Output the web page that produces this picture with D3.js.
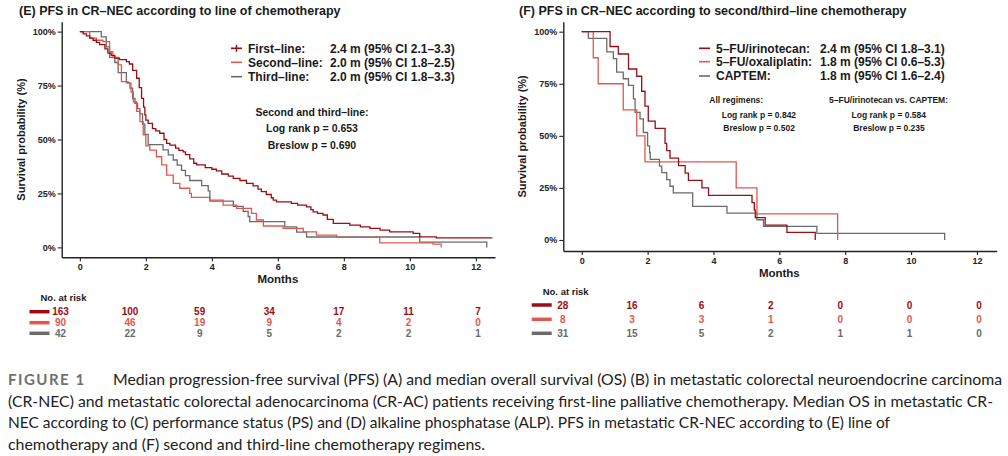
<!DOCTYPE html>
<meta charset="utf-8">
<style>
body { margin: 0; background: #fff; }
text { font-family: "Liberation Sans", Arial, sans-serif; fill: #1a1a1a; }
.tick text { font-weight: bold; font-size: 9px; fill: #222; }
.caption { font-family: Lato, "Open Sans", sans-serif; font-size: 15px; fill: #222; }
</style>
<body>
<script src="https://d3js.org/d3.v7.min.js"></script>
<script>

var width = 1008, height = 456;
var colors = ["#9b0d14", "#e0584d", "#6b6b6b"];

// (E) line of chemotherapy: step times (months) and survival
var firstT = [0, 0.1, 0.2, 0.3, 0.4, 0.5, 0.6, 0.76, 0.85, 0.95, 1.06, 1.2, 1.41, 1.5, 1.6, 1.72, 1.8, 1.87, 1.93, 1.97, 2.0, 2.07, 2.2, 2.3, 2.42, 2.55, 2.63, 2.73, 2.9, 3.0, 3.13, 3.2, 3.33, 3.45, 3.54, 3.8, 4.0, 4.14, 4.3, 4.5, 4.65, 4.85, 5.05, 5.25, 5.4, 5.5, 5.65, 5.8, 5.86, 5.96, 6.41, 6.6, 6.87, 7.0, 7.07, 7.2, 7.37, 7.5, 7.68, 8.18, 8.5, 8.79, 9.1, 9.39, 10.1, 10.3, 10.8, 12.5];
var firstS = [1, 0.99, 0.98, 0.97, 0.96, 0.95, 0.94, 0.92, 0.9, 0.89, 0.877, 0.87, 0.861, 0.85, 0.82, 0.784, 0.74, 0.691, 0.65, 0.614, 0.59, 0.575, 0.55, 0.54, 0.529, 0.5, 0.482, 0.474, 0.46, 0.45, 0.443, 0.43, 0.41, 0.39, 0.382, 0.37, 0.362, 0.355, 0.34, 0.33, 0.32, 0.31, 0.297, 0.285, 0.27, 0.258, 0.245, 0.23, 0.219, 0.211, 0.204, 0.196, 0.188, 0.175, 0.165, 0.158, 0.15, 0.13, 0.111, 0.103, 0.095, 0.088, 0.08, 0.072, 0.065, 0.049, 0.044, 0.044];
var secondT = [0, 0.3, 0.5, 0.7, 0.9, 1.0, 1.16, 1.26, 1.46, 1.55, 1.62, 1.72, 1.82, 1.92, 2.0, 2.12, 2.32, 2.48, 2.63, 2.83, 3.03, 3.33, 3.38, 3.94, 4.34, 4.75, 5.2, 5.35, 5.56, 6.16, 6.77, 7.17, 7.78, 9.09, 10.7, 10.95];
var secondS = [1, 0.97, 0.96, 0.954, 0.907, 0.88, 0.846, 0.768, 0.761, 0.72, 0.675, 0.63, 0.583, 0.521, 0.47, 0.451, 0.42, 0.382, 0.335, 0.297, 0.274, 0.25, 0.232, 0.219, 0.196, 0.181, 0.158, 0.127, 0.099, 0.088, 0.072, 0.057, 0.046, 0.021, 0.015, 0];
var thirdT = [0, 0.65, 0.8, 0.9, 1.06, 1.16, 1.41, 1.52, 1.6, 1.67, 1.75, 1.82, 1.9, 1.97, 2.07, 2.52, 2.68, 2.83, 2.95, 3.08, 3.2, 3.33, 3.69, 3.89, 3.94, 4.65, 4.95, 5.1, 5.15, 6.21, 6.57, 6.87, 10.3, 12.33];
var thirdS = [1, 0.976, 0.929, 0.881, 0.857, 0.81, 0.762, 0.738, 0.69, 0.667, 0.643, 0.619, 0.571, 0.524, 0.476, 0.452, 0.429, 0.405, 0.381, 0.357, 0.333, 0.31, 0.286, 0.262, 0.214, 0.19, 0.167, 0.143, 0.119, 0.095, 0.071, 0.048, 0.024, 0];

// (F) second/third-line regimens
var irinoT = [0, 0.86, 1.11, 1.42, 1.67, 1.82, 1.92, 2.02, 2.23, 2.53, 2.58, 2.68, 2.94, 3.14, 3.24, 3.65, 3.85, 5.17, 5.24, 5.27, 5.57, 6.23, 7.09];
var irinoS = [1, 0.929, 0.893, 0.821, 0.786, 0.714, 0.643, 0.571, 0.536, 0.464, 0.429, 0.393, 0.357, 0.321, 0.286, 0.25, 0.214, 0.179, 0.143, 0.107, 0.071, 0.036, 0];
var oxaliT = [0, 0.35, 0.5, 1.26, 1.67, 1.92, 4.69, 5.32, 7.77];
var oxaliS = [1, 0.875, 0.75, 0.625, 0.5, 0.375, 0.25, 0.125, 0];
var captemT = [0, 0.2, 0.76, 0.96, 1.06, 1.26, 1.42, 1.57, 1.62, 1.77, 1.87, 2.0, 2.06, 2.08, 2.36, 2.43, 2.58, 2.68, 2.78, 3.37, 4.41, 5.32, 5.52, 7.14, 11.02];
var captemS = [1, 0.968, 0.903, 0.871, 0.806, 0.774, 0.742, 0.677, 0.613, 0.581, 0.516, 0.452, 0.419, 0.387, 0.355, 0.323, 0.29, 0.258, 0.226, 0.161, 0.129, 0.097, 0.065, 0.032, 0];

var xTicks = [0, 2, 4, 6, 8, 10, 12];
var yTicks = [0, 0.25, 0.5, 0.75, 1];
var riskE = [[163, 100, 59, 34, 17, 11, 7], [90, 46, 19, 9, 4, 2, 0], [42, 22, 9, 5, 2, 2, 1]];
var riskF = [[28, 16, 6, 2, 0, 0, 0], [8, 3, 3, 1, 0, 0, 0], [31, 15, 5, 2, 1, 1, 0]];

var legendE = ["First–line:", "Second–line:", "Third–line:"];
var medianE = ["2.4 m (95% CI 2.1–3.3)", "2.0 m (95% CI 1.8–2.5)", "2.0 m (95% CI 1.8–3.3)"];
var legendF = ["5–FU/irinotecan:", "5–FU/oxaliplatin:", "CAPTEM:"];
var medianF = ["2.4 m (95% CI 1.8–3.1)", "1.8 m (95% CI 0.6–5.3)", "1.8 m (95% CI 1.6–2.4)"];

var svg = d3.select("body").append("svg")
    .attr("width", width)
    .attr("height", height);

function panel(p) {
  var g = svg.append("g");
  var x = d3.scaleLinear().domain(p.xDom).range(p.xRange);
  var y = d3.scaleLinear().domain(p.yDom).range(p.yRange);

  g.append("text").attr("x", p.titleX).attr("y", 15)
      .style("font-weight", "bold").style("font-size", "12.5px")
      .text(p.title);

  var ya = g.append("g").attr("transform", "translate(" + p.xRange[0] + ",0)")
      .call(d3.axisLeft(y).tickValues(yTicks).tickFormat(d3.format(".0%")).tickSize(4).tickSizeOuter(0).tickPadding(2));
  var xa = g.append("g").attr("transform", "translate(0," + p.yRange[0] + ")")
      .call(d3.axisBottom(x).tickValues(xTicks).tickSize(4).tickSizeOuter(0).tickPadding(2.5));
  [ya, xa].forEach(function(a) {
    a.select(".domain").attr("stroke", "#222").attr("stroke-width", 1.4);
    a.selectAll(".tick line").attr("stroke", "#222").attr("stroke-width", 1.1);
  });

  var cy = (p.yRange[0] + p.yRange[1]) / 2;
  g.append("text")
      .attr("transform", "translate(" + (p.xRange[0] - 37) + "," + cy + ") rotate(-90)")
      .attr("text-anchor", "middle")
      .style("font-weight", "bold").style("font-size", "11px")
      .text("Survival probability (%)");
  g.append("text").attr("x", x(6)).attr("y", p.yRange[0] + 25.5)
      .attr("text-anchor", "middle")
      .style("font-weight", "bold").style("font-size", "11.5px")
      .text("Months");

  var line = d3.line()
      .x(function(d) { return x(d[0]); })
      .y(function(d) { return y(d[1]); })
      .curve(d3.curveStepAfter);

  for (var i = p.curves.length - 1; i >= 0; i--) {
    g.append("path")
        .datum(d3.zip(p.curves[i][0], p.curves[i][1]))
        .attr("fill", "none")
        .attr("stroke", colors[i])
        .attr("stroke-width", 1.3)
        .attr("d", line);
  }

  // legend
  p.labels.forEach(function(lab, i) {
    var ly = p.legY[i];
    g.append("line").attr("x1", p.legX).attr("x2", p.legX + 11)
        .attr("y1", ly).attr("y2", ly)
        .attr("stroke", colors[i]).attr("stroke-width", 1.6);
    if (i === 0 && p.cross) {
      g.append("line").attr("x1", p.legX + 5.5).attr("x2", p.legX + 5.5)
          .attr("y1", ly - 3.5).attr("y2", ly + 3.5)
          .attr("stroke", colors[i]).attr("stroke-width", 1.4);
    }
    g.append("text").attr("x", p.legX + 17).attr("y", ly + 4.3)
        .style("font-weight", "bold").style("font-size", "12px")
        .text(lab);
    g.append("text").attr("x", p.valX).attr("y", ly + 4.3)
        .style("font-weight", "bold").style("font-size", "12px")
        .text(p.medians[i]);
  });

  p.notes.forEach(function(n) {
    g.append("text").attr("x", n.x).attr("y", n.y)
        .attr("text-anchor", n.anchor || "start")
        .style("font-weight", "bold").style("font-size", n.size)
        .text(n.t);
  });

  // risk table
  var tx = d3.scaleLinear().domain([0, 12]).range(p.tabRange);
  g.append("text").attr("x", p.tabRange[0] - 20).attr("y", p.riskY[0] - 10.5)
      .style("font-weight", "bold").style("font-size", "9.5px")
      .text("No. at risk");
  p.risk.forEach(function(row, i) {
    g.append("line").attr("x1", p.tabRange[0] - 31).attr("x2", p.tabRange[0] - 11)
        .attr("y1", p.riskY[i]).attr("y2", p.riskY[i])
        .attr("stroke", colors[i]).attr("stroke-width", 3.5);
    g.selectAll(null).data(row).enter().append("text")
        .attr("x", function(d, j) { return tx(xTicks[j]); })
        .attr("y", p.riskY[i] + 3.6)
        .attr("text-anchor", "middle")
        .style("font-weight", "bold").style("font-size", "10px")
        .style("fill", colors[i])
        .text(function(d) { return d; });
  });
}

panel({
  title: "(E) PFS in CR–NEC according to line of chemotherapy", titleX: 19,
  xDom: [-0.55, 12.58], xRange: [61.7, 495],
  yDom: [-0.046, 1.046], yRange: [257.3, 21.7],
  curves: [[firstT, firstS], [secondT, secondS], [thirdT, thirdS]],
  labels: legendE, medians: medianE, cross: true,
  legX: 231, legY: [48.3, 62.3, 76.7], valX: 330,
  notes: [
    { t: "Second and third–line:", x: 312, y: 115.5, anchor: "middle", size: "10.5px" },
    { t: "Log rank p = 0.653", x: 312, y: 132, anchor: "middle", size: "10.5px" },
    { t: "Breslow p = 0.690", x: 312, y: 148.5, anchor: "middle", size: "10.5px" }
  ],
  risk: riskE, tabRange: [60.5, 478], riskY: [311.7, 322.7, 333.3]
});

panel({
  title: "(F) PFS in CR–NEC according to second/third–line chemotherapy", titleX: 519,
  xDom: [-0.56, 12.6], xRange: [563.3, 996.7],
  yDom: [-0.053, 1.048], yRange: [251, 21.7],
  curves: [[irinoT, irinoS], [oxaliT, oxaliS], [captemT, captemS]],
  labels: legendF, medians: medianF, cross: false,
  legX: 699, legY: [48.3, 61.7, 76], valX: 820,
  notes: [
    { t: "All regimens:", x: 709.3, y: 103, size: "8.5px" },
    { t: "Log rank p = 0.842", x: 721.7, y: 118, size: "8.5px" },
    { t: "Breslow p = 0.502", x: 723.3, y: 131.3, size: "8.5px" },
    { t: "5–FU/irinotecan vs. CAPTEM:", x: 888.5, y: 103, anchor: "middle", size: "8.5px" },
    { t: "Log rank p = 0.584", x: 888.8, y: 118, anchor: "middle", size: "8.5px" },
    { t: "Breslow p = 0.235", x: 889, y: 131.3, anchor: "middle", size: "8.5px" }
  ],
  risk: riskF, tabRange: [562.7, 979], riskY: [305, 319.3, 333.3]
});

// caption
var cap = svg.append("g");
cap.append("text").attr("x", 8).attr("y", 385)
    .attr("class", "caption")
    .style("font-weight", "bold").style("fill", "#707070").style("letter-spacing", "1.5px")
    .text("FIGURE 1");
var capLines = [
  { t: "Median progression-free survival (PFS) (A) and median overall survival (OS) (B) in metastatic colorectal neuroendocrine carcinoma", x: 113, w: 889 },
  { t: "(CR-NEC) and metastatic colorectal adenocarcinoma (CR-AC) patients receiving first-line palliative chemotherapy. Median OS in metastatic CR-", x: 8, w: 985 },
  { t: "NEC according to (C) performance status (PS) and (D) alkaline phosphatase (ALP). PFS in metastatic CR-NEC according to (E) line of", x: 8, w: 882 },
  { t: "chemotherapy and (F) second and third-line chemotherapy regimens.", x: 8, w: 477 }
];
capLines.forEach(function(l, i) {
  cap.append("text").attr("class", "caption")
      .attr("x", l.x).attr("y", 385 + i * 21.7)
      .attr("textLength", l.w).attr("lengthAdjust", "spacingAndGlyphs")
      .text(l.t);
});

</script>
